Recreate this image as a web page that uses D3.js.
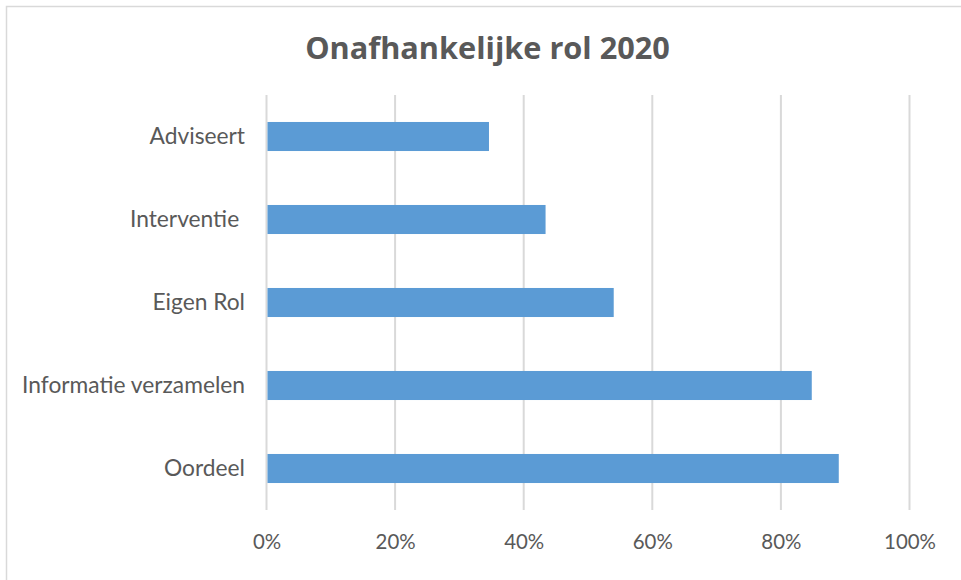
<!DOCTYPE html>
<html><head><meta charset="utf-8">
<script src="https://cdn.jsdelivr.net/npm/d3@7"></script>
<style>html,body{margin:0;padding:0;background:#fff;}svg{display:block;}</style>
</head><body>
<svg id="chart" width="961" height="580"></svg>
<script>
const categories = ["Adviseert", "Interventie ", "Eigen Rol", "Informatie verzamelen", "Oordeel"];
const values = [0.346, 0.434, 0.540, 0.848, 0.890];
const ticks = [0, 0.2, 0.4, 0.6, 0.8, 1.0];
const title = "Onafhankelijke rol 2020";

const svg = d3.select("#chart");
const font = "Lato, 'Open Sans', sans-serif";

svg.append("rect").attr("x", 6.5).attr("y", 6.5).attr("width", 1000).attr("height", 1000)
  .attr("fill", "#fff").attr("stroke", "#d9d9d9").attr("stroke-width", 1.5);

const x = d3.scaleLinear().domain([0, 1]).range([266.5, 909.5]);
const y = d3.scaleBand().domain(categories).range([95, 510]).paddingInner(0.65).paddingOuter(0.325);

const g = svg.append("g");
g.selectAll("line.grid").data(ticks).join("line").attr("class", "grid")
  .attr("x1", d => x(d)).attr("x2", d => x(d)).attr("y1", 95).attr("y2", 510)
  .attr("stroke", "#d9d9d9").attr("stroke-width", 2);

g.selectAll("rect.bar").data(categories).join("rect").attr("class", "bar")
  .attr("x", x(0) + 1).attr("y", d => y(d))
  .attr("width", (d, i) => x(values[i]) - x(0) - 1).attr("height", y.bandwidth())
  .attr("fill", "#5b9bd5");

function fitSize(text, weight, target, base) {
  const tmp = svg.append("text").attr("font-family", font).attr("font-weight", weight)
    .attr("font-size", base).style("white-space", "pre").text(text);
  const w = tmp.node().getComputedTextLength();
  tmp.remove();
  return base * target / w;
}
const tickSize = fitSize("100%", "normal", 52, 20);
const catSize = fitSize("Informatie verzamelen", "normal", 223, 20);

const xAxis = d3.axisBottom(x).tickValues(ticks).tickFormat(d3.format(".0%")).tickSize(0).tickPadding(0);
const xa = svg.append("g").attr("transform", "translate(0,549)").call(xAxis);
xa.select(".domain").remove();
xa.selectAll("text").attr("fill", "#595959").attr("font-family", font).attr("font-size", tickSize).attr("dy", 0);

const yAxis = d3.axisLeft(y).tickSize(0).tickPadding(0);
const ya = svg.append("g").attr("transform", "translate(245,0)").call(yAxis);
ya.select(".domain").remove();
ya.selectAll("text").attr("fill", "#595959").attr("font-family", font).attr("font-size", catSize)
  .attr("dy", "0.35em").style("white-space", "pre");

const t = svg.append("text").attr("x", 487.5).attr("y", 59).attr("text-anchor", "middle")
  .attr("fill", "#595959").attr("font-family", "'Open Sans', sans-serif").attr("font-weight", "bold")
  .attr("font-size", 28).text(title);
const w = t.node().getComputedTextLength();
t.attr("font-size", 28 * 365 / w);
</script>
</body></html>
